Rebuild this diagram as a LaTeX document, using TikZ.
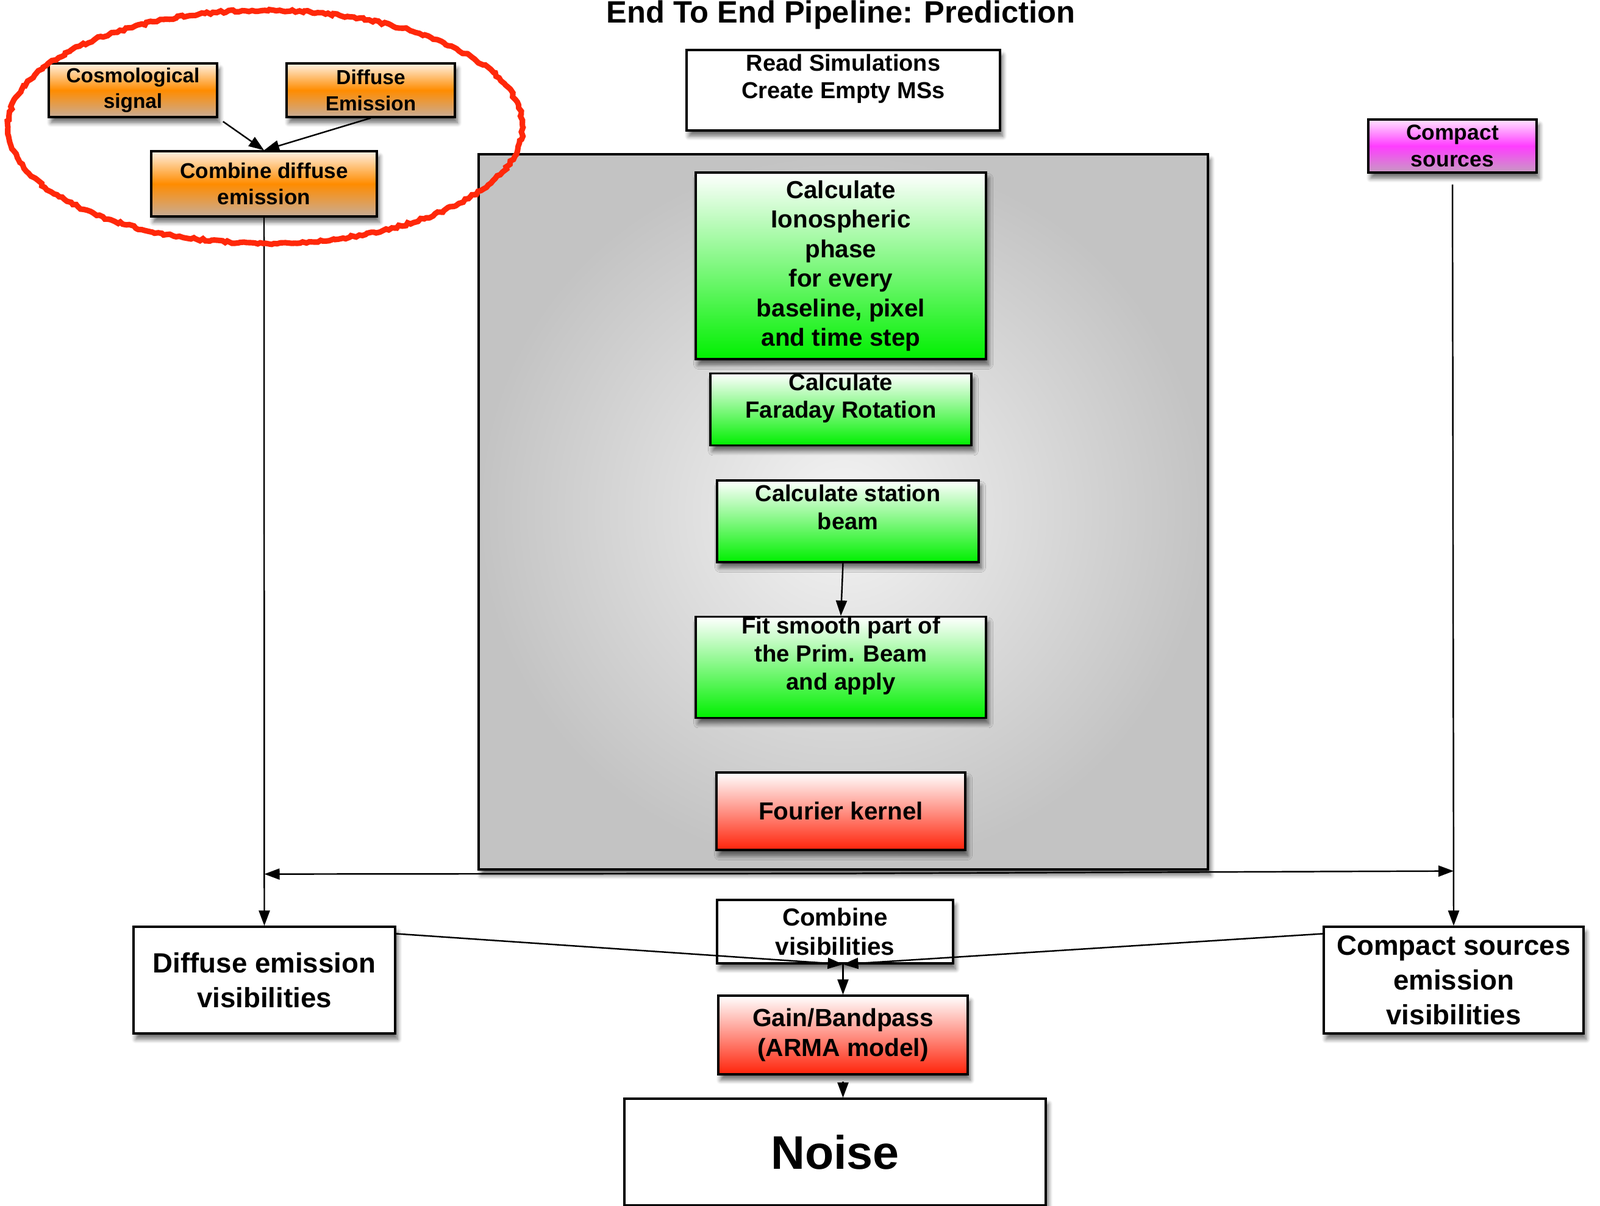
\documentclass[tikz,border=0pt]{standalone}
\usepackage{fontspec}
\setmainfont{Liberation Sans}
\usetikzlibrary{arrows.meta,shadows.blur,decorations.pathmorphing}
\definecolor{orangetop}{RGB}{255,242,228}
\definecolor{orangemid}{RGB}{255,140,0}
\definecolor{orangebot}{RGB}{200,172,150}
\definecolor{pinktop}{RGB}{255,228,255}
\definecolor{pinkmid}{RGB}{255,60,255}
\definecolor{pinkbot}{RGB}{200,155,195}
\definecolor{greenbot}{RGB}{0,240,0}
\definecolor{redbot}{RGB}{255,35,10}
\definecolor{pencilred}{RGB}{255,40,10}
\tikzset{
	% ---- default
	every node/.style={font=\bfseries},
	% ---- custom
	box/.style={draw=black, line width=0.9pt, align=center, inner sep=0pt,
		blur shadow={shadow xshift=0.04cm, shadow yshift=-0.09cm, shadow blur steps=8, shadow opacity=60}},
	whitebox/.style={box, fill=white},
	greenbox/.style={box, top color=white, bottom color=greenbot},
	redbox/.style={box, top color=white, bottom color=redbot},
	orangebox/.style={box, top color=orangetop, bottom color=orangebot, middle color=orangemid},
	pinkbox/.style={box, top color=pinktop, bottom color=pinkbot, middle color=pinkmid},
	link/.style={-{Triangle[length=2.5mm, width=1.8mm]}, line width=0.7pt},
	pencil/.style={draw=pencilred, line width=2.6pt, decorate,
		decoration={random steps, segment length=1.5pt, amplitude=0.6pt}},
}

\begin{document}
\begin{tikzpicture}

	\useasboundingbox (0,0) rectangle (26.24,-19.77);

% title %{{{2

	\node[anchor=base, font=\fontsize{14.4}{17}\selectfont\bfseries] (title) at (13.79,-0.37)
	{End To End Pipeline: Prediction};

% simulation block %{{{2

	\node[box, minimum width=11.96cm, minimum height=11.73cm, inner color=gray!9, outer color=gray!47] (graybox) at (13.83,-8.395) {};

	\node[greenbox, minimum width=4.76cm, minimum height=3.06cm, font=\fontsize{11.5}{13.8}\selectfont\bfseries] (iono) at (13.79,-4.36)
	{Calculate\\Ionospheric\\phase\\for every\\baseline, pixel\\and time step};
	\node[greenbox, minimum width=4.28cm, minimum height=1.07cm, font=\fontsize{10.9}{12.8}\selectfont\bfseries] (faraday) at (13.79,-6.715)
	{Calculate\\Faraday Rotation\\\mbox{}};
	\node[greenbox, minimum width=4.29cm, minimum height=1.34cm, font=\fontsize{10.8}{13.3}\selectfont\bfseries] (station) at (13.905,-8.55)
	{Calculate station\\beam\\\mbox{}};
	\node[greenbox, minimum width=4.76cm, minimum height=1.65cm, font=\fontsize{10.9}{13.1}\selectfont\bfseries] (fitsmooth) at (13.79,-10.945)
	{Fit smooth part of\\the Prim. Beam\\and apply\\\mbox{}};
	\node[redbox, minimum width=4.08cm, minimum height=1.27cm, font=\fontsize{11.5}{13.8}\selectfont\bfseries] (fourier) at (13.79,-13.305)
	{Fourier kernel};

% sources %{{{2

	\node[orangebox, minimum width=2.76cm, minimum height=0.88cm, font=\fontsize{9.5}{12}\selectfont\bfseries] (cosmo) at (2.18,-1.48)
	{Cosmological\\signal};
	\node[orangebox, minimum width=2.76cm, minimum height=0.88cm, font=\fontsize{9.5}{12}\selectfont\bfseries] (diffem) at (6.08,-1.48)
	{Diffuse\\Emission};
	\node[orangebox, minimum width=3.70cm, minimum height=1.07cm, font=\fontsize{10}{12.4}\selectfont\bfseries] (combdiff) at (4.33,-3.015)
	{Combine diffuse\\emission};
	\node[whitebox, minimum width=5.14cm, minimum height=1.32cm, font=\fontsize{10.8}{12.8}\selectfont\bfseries] (readsim) at (13.83,-1.48)
	{Read Simulations\\Create Empty MSs\\\mbox{}};
	\node[pinkbox, minimum width=2.76cm, minimum height=0.87cm, font=\fontsize{10.1}{12.4}\selectfont\bfseries] (compact) at (23.82,-2.395)
	{Compact\\sources};

% visibilities %{{{2

	\node[whitebox, minimum width=4.29cm, minimum height=1.75cm, font=\fontsize{13}{16.2}\selectfont\bfseries] (diffvis) at (4.335,-16.075)
	{Diffuse emission\\visibilities};
	\node[whitebox, minimum width=3.87cm, minimum height=1.04cm, font=\fontsize{11.5}{13.8}\selectfont\bfseries] (combvis) at (13.695,-15.28)
	{Combine\\visibilities};
	\node[whitebox, minimum width=4.26cm, minimum height=1.75cm, font=\fontsize{13}{16.2}\selectfont\bfseries] (compvis) at (23.84,-16.075)
	{Compact sources\\emission\\visibilities};
	\node[redbox, minimum width=4.09cm, minimum height=1.29cm, font=\fontsize{11.6}{13.8}\selectfont\bfseries] (gain) at (13.825,-16.975)
	{Gain/Bandpass\\(ARMA model)};
	\node[whitebox, minimum width=6.91cm, minimum height=1.75cm, font=\fontsize{22}{26}\selectfont\bfseries] (noise) at (13.695,-18.895)
	{Noise};

	\coordinate (join) at (gain.north |- combvis.south);

% connectors %{{{2

	\draw[link, shorten <=0.1cm] (cosmo.south east) -- (combdiff.north);
	\draw[link] (diffem.south) -- (combdiff.north);
	\draw[link] (combdiff.south) -- (diffvis.north);
	\draw[link, shorten <=0.18cm] (compact.south) -- (compvis.north);

	\draw[link] ([yshift=-0.05cm]graybox.south) -- ([yshift=-0.06cm]graybox.south -| diffvis.north);
	\draw[link] ([yshift=-0.05cm]graybox.south) -- ([yshift=-0.01cm]graybox.south -| compvis.north);

	\draw[link] ([xshift=-0.08cm]station.south) -- (fitsmooth.north);

	\draw[link] ([yshift=-0.13cm]diffvis.north east) -- (join);
	\draw[link] ([yshift=-0.13cm]compvis.north west) -- (join);
	\draw[link] (join) -- (gain.north);
	\draw[link, shorten <=0.1cm] (gain.south) -- (gain.south |- noise.north);

% highlight %{{{2

	\draw[pencil] (4.35,-2.08) ellipse (4.22 and 1.91);

% closing %{{{2

\end{tikzpicture}
\end{document}
